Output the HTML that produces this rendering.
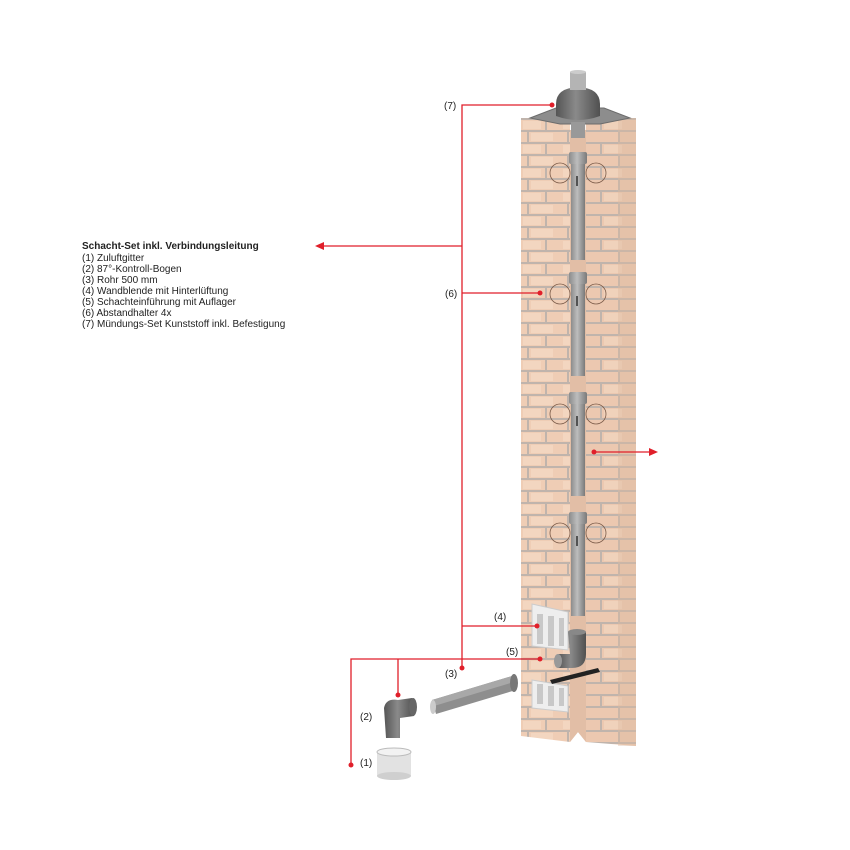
<!DOCTYPE html>
<html><head><meta charset="utf-8"><style>
html,body{margin:0;padding:0;background:#fff;}
svg{display:block;}
text{font-family:"Liberation Sans","DejaVu Sans",sans-serif;}
</style></head><body>
<svg width="850" height="850" viewBox="0 0 850 850" xmlns="http://www.w3.org/2000/svg">
<defs>
<pattern id="brL" x="521" y="118" width="40" height="24" patternUnits="userSpaceOnUse">
<rect width="40" height="24" fill="#efcdb5"/>
<rect x="0" y="0" width="40" height="2" fill="#c0b4ac"/>
<rect x="0" y="12" width="40" height="2" fill="#c0b4ac"/>
<rect x="24" y="0" width="2" height="12" fill="#c0b4ac"/>
<rect x="6" y="12" width="2" height="12" fill="#c0b4ac"/>
<rect x="2" y="3" width="18" height="8" fill="#f5dcc8" opacity=".6"/>
<rect x="10" y="15" width="22" height="8" fill="#f5dcc8" opacity=".6"/>
</pattern>
<pattern id="brR" x="586" y="118" width="40" height="24" patternUnits="userSpaceOnUse">
<rect width="40" height="24" fill="#ecc8b0"/>
<rect x="0" y="0" width="40" height="2" fill="#c0b4ac"/>
<rect x="0" y="12" width="40" height="2" fill="#c0b4ac"/>
<rect x="14" y="0" width="2" height="12" fill="#c0b4ac"/>
<rect x="32" y="12" width="2" height="12" fill="#c0b4ac"/>
<rect x="18" y="3" width="18" height="8" fill="#f3d8c3" opacity=".6"/>
</pattern>
<linearGradient id="pipe" x1="0" x2="1" y1="0" y2="0">
<stop offset="0" stop-color="#8c8c8c"/><stop offset=".45" stop-color="#bdbdbd"/><stop offset="1" stop-color="#7a7a7a"/>
</linearGradient>
<linearGradient id="dpipe" x1="0" x2="1" y1="0" y2="0">
<stop offset="0" stop-color="#555"/><stop offset=".45" stop-color="#8a8a8a"/><stop offset="1" stop-color="#505050"/>
</linearGradient>
</defs>

<polygon points="521,118 570,118 570,742 521,736" fill="url(#brL)"/>
<polygon points="586,118 636,118 636,746 586,742 578,732 570,742" fill="url(#brR)"/>
<polygon points="570,130 586,130 586,742 578,732 570,742" fill="#e2bea6"/>
<rect x="618" y="118" width="18" height="628" fill="#dcb8a0" opacity=".4"/>
<polygon points="530,118 556,108 604,108 630,118 600,124 560,124" fill="#8d8d8d" stroke="#6c6c6c"/>
<rect x="571" y="122" width="14" height="16" fill="#999"/>
<path d="M556,104 Q556,88 578,87 Q600,88 600,104 L600,116 Q578,124 556,116 Z" fill="url(#dpipe)"/>
<rect x="570" y="72" width="16" height="18" fill="#b4b4b4"/>
<ellipse cx="578" cy="72" rx="8" ry="2" fill="#ccc"/>

<g fill="url(#pipe)">
<rect x="571" y="160" width="14" height="100"/><rect x="569" y="152" width="18" height="12" rx="2"/>
<rect x="571" y="280" width="14" height="96"/><rect x="569" y="272" width="18" height="12" rx="2"/>
<rect x="571" y="400" width="14" height="96"/><rect x="569" y="392" width="18" height="12" rx="2"/>
<rect x="571" y="520" width="14" height="96"/><rect x="569" y="512" width="18" height="12" rx="2"/>
</g>
<g fill="none" stroke="#7a5a48" stroke-width="0.8">
<circle cx="560" cy="173" r="10"/><circle cx="596" cy="173" r="10"/>
<circle cx="560" cy="294" r="10"/><circle cx="596" cy="294" r="10"/>
<circle cx="560" cy="414" r="10"/><circle cx="596" cy="414" r="10"/>
<circle cx="560" cy="533" r="10"/><circle cx="596" cy="533" r="10"/>
</g>
<g stroke="#333" stroke-width="1.5">
<line x1="577" y1="176" x2="577" y2="186"/><line x1="577" y1="296" x2="577" y2="306"/>
<line x1="577" y1="416" x2="577" y2="426"/><line x1="577" y1="536" x2="577" y2="546"/>
</g>

<polygon points="532,604 568,612 568,650 532,646" fill="#eeeeee" stroke="#ccc"/>
<polygon points="532,680 568,686 568,712 532,708" fill="#eeeeee" stroke="#ccc"/>
<g fill="#c8c8c8">
<rect x="537" y="614" width="6" height="30"/><rect x="548" y="616" width="6" height="30"/><rect x="559" y="618" width="5" height="28"/>
<rect x="537" y="684" width="6" height="20"/><rect x="548" y="686" width="6" height="20"/><rect x="559" y="688" width="5" height="18"/>
</g>
<path d="M568,632 h18 v22 q0,14 -14,14 h-14 v-14 h12 z" fill="url(#dpipe)"/>
<ellipse cx="577" cy="632" rx="9" ry="3" fill="#888"/>
<ellipse cx="558" cy="661" rx="4" ry="7" fill="#999"/>
<polygon points="550,680 598,668 600,672 552,684" fill="#222"/>

<path d="M432,700 L512,676 L516,690 L436,714 Z" fill="#8e8e8e"/>
<path d="M432,700 L512,676 L514,682 L434,706 Z" fill="#a8a8a8"/>
<ellipse cx="433" cy="707" rx="3" ry="7" fill="#ccc"/>
<ellipse cx="514" cy="683" rx="4" ry="9" fill="#777"/>
<path d="M384,708 Q386,698 398,700 L412,698 L414,716 L400,718 L400,738 L386,738 Z" fill="url(#dpipe)"/>
<ellipse cx="413" cy="707" rx="4" ry="9" fill="#666"/>
<rect x="377" y="752" width="34" height="24" fill="#e2e2e2"/>
<ellipse cx="394" cy="752" rx="17" ry="4" fill="#f2f2f2" stroke="#bbb"/>
<ellipse cx="394" cy="776" rx="17" ry="4" fill="#cfcfcf"/>

<g stroke="#e01f2a" stroke-width="1.3" fill="none">
<polyline points="552,105 462,105 462,668"/>
<line x1="462" y1="246" x2="322" y2="246"/>
<line x1="462" y1="293" x2="540" y2="293"/>
<line x1="462" y1="626" x2="537" y2="626"/>
<polyline points="540,659 351,659 351,765"/>
<line x1="398" y1="659" x2="398" y2="695"/>
<line x1="594" y1="452" x2="650" y2="452"/>
</g>
<g fill="#e01f2a">
<polygon points="315,246 324,242 324,250"/>
<polygon points="658,452 649,448 649,456"/>
<circle cx="552" cy="105" r="2.5"/><circle cx="540" cy="293" r="2.5"/>
<circle cx="537" cy="626" r="2.5"/><circle cx="540" cy="659" r="2.5"/>
<circle cx="462" cy="668" r="2.5"/><circle cx="398" cy="695" r="2.5"/>
<circle cx="351" cy="765" r="2.5"/><circle cx="594" cy="452" r="2.5"/>
</g>

<g font-size="10" fill="#222">
<text x="444" y="109">(7)</text>
<text x="445" y="297">(6)</text>
<text x="494" y="620">(4)</text>
<text x="506" y="655">(5)</text>
<text x="445" y="677">(3)</text>
<text x="360" y="720">(2)</text>
<text x="360" y="766">(1)</text>
</g>

<g font-size="10" fill="#222">
<text x="82" y="249" font-weight="bold">Schacht-Set inkl. Verbindungsleitung</text>
<text x="82" y="261">(1) Zuluftgitter</text>
<text x="82" y="272">(2) 87°-Kontroll-Bogen</text>
<text x="82" y="283">(3) Rohr 500 mm</text>
<text x="82" y="294">(4) Wandblende mit Hinterlüftung</text>
<text x="82" y="305">(5) Schachteinführung mit Auflager</text>
<text x="82" y="316">(6) Abstandhalter 4x</text>
<text x="82" y="327">(7) Mündungs-Set Kunststoff inkl. Befestigung</text>
</g>
</svg>
</body></html>
